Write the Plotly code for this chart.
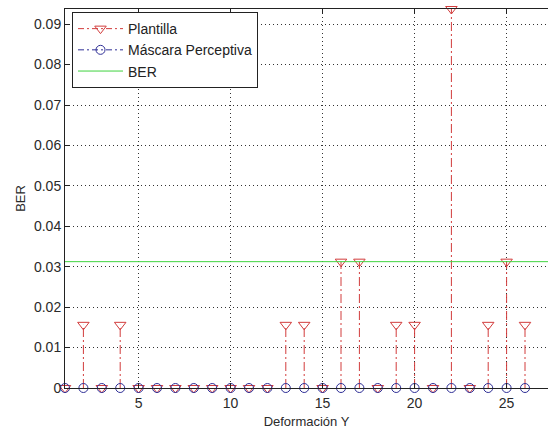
import plotly.graph_objects as go

x_vals = list(range(1, 27))
plantilla = [0, 0.015625, 0, 0.015625, 0, 0, 0, 0, 0, 0, 0, 0, 0.015625, 0.015625, 0,
             0.03125, 0.03125, 0, 0.015625, 0.015625, 0, 0.09375, 0, 0.015625, 0.03125, 0.015625]
mascara = [0, 0, 0, 0, 0, 0, 0, 0, 0, 0, 0, 0, 0, 0, 0,
           0, 0, 0, 0, 0, 0, 0, 0, 0, 0, 0]
ber_x = [1, 28]
ber_y = [0.03125, 0.03125]
x_ticks = [5, 10, 15, 20, 25]
y_ticks = [0, 0.01, 0.02, 0.03, 0.04, 0.05, 0.06, 0.07, 0.08, 0.09]
y_tick_text = ["0", "0.01", "0.02", "0.03", "0.04", "0.05", "0.06", "0.07", "0.08", "0.09"]

RED = "#d23c3c"
BLUE = "#2e2e96"
GREEN = "#3fd33f"
FONT = "Liberation Sans, Arial, sans-serif"
GRID = dict(showgrid=True, gridcolor="#333", griddash="1px,3px", gridwidth=1)


def stems(xs, ys):
    sx, sy = [], []
    for x, y in zip(xs, ys):
        sx += [x, x, None]
        sy += [0, y, None]
    return sx, sy


fig = go.Figure()

sx, sy = stems(x_vals, plantilla)
fig.add_trace(go.Scatter(x=sx, y=sy, mode="lines", line=dict(color=RED, width=1, dash="9px,3px,2px,3px"),
                         showlegend=False, hoverinfo="skip"))
fig.add_trace(go.Scatter(x=x_vals, y=plantilla, mode="markers", cliponaxis=False,
                         marker=dict(symbol="triangle-down-open", size=10, color=RED, line=dict(width=1)),
                         showlegend=False))
sx2, sy2 = stems(x_vals, mascara)
fig.add_trace(go.Scatter(x=sx2, y=sy2, mode="lines", line=dict(color=BLUE, width=1, dash="9px,3px,2px,3px"),
                         showlegend=False, hoverinfo="skip"))
fig.add_trace(go.Scatter(x=x_vals, y=mascara, mode="markers", cliponaxis=False,
                         marker=dict(symbol="circle-open", size=9, color=BLUE, line=dict(width=1)),
                         showlegend=False))
fig.add_trace(go.Scatter(x=ber_x, y=ber_y, mode="lines", line=dict(color=GREEN, width=1),
                         showlegend=False))

fig.add_trace(go.Scatter(x=[None], y=[None], mode="lines+markers", name="Plantilla",
                         line=dict(color=RED, width=1, dash="6px,3px,2px,3px"),
                         marker=dict(symbol="triangle-down-open", size=10, color=RED)))
fig.add_trace(go.Scatter(x=[None], y=[None], mode="lines+markers", name="Máscara Perceptiva",
                         line=dict(color=BLUE, width=1, dash="6px,3px,2px,3px"),
                         marker=dict(symbol="circle-open", size=9, color=BLUE)))
fig.add_trace(go.Scatter(x=[None], y=[None], mode="lines", name="BER",
                         line=dict(color=GREEN, width=1)))

fig.update_layout(
    width=548, height=433,
    margin=dict(l=65, r=0, t=9, b=45, autoexpand=False),
    paper_bgcolor="white", plot_bgcolor="white",
    font=dict(family=FONT, size=14, color="#2a2a2a"),
    showlegend=True,
    legend=dict(x=0.0145, y=0.992, xanchor="left", yanchor="top",
                bgcolor="white", bordercolor="#222", borderwidth=1,
                font=dict(size=14, color="#222"), itemwidth=45,
                tracegroupgap=0),
    xaxis=dict(range=[1, 27.25], tickvals=x_ticks, ticks="inside", ticklen=5,
               tickcolor="#222", showline=True, mirror="ticks", linecolor="#222", linewidth=1,
               zeroline=False, automargin=False, ticklabelstandoff=2,
               title=dict(text="Deformación Y", standoff=7, font=dict(size=13)), **GRID),
    yaxis=dict(range=[0, 0.09375], tickvals=y_ticks, ticktext=y_tick_text,
               ticks="inside", ticklen=5, tickcolor="#222", showline=True,
               linecolor="#222", linewidth=1, zeroline=False, automargin=False,
               title=dict(text="BER", standoff=5, font=dict(size=13)), **GRID),
)

fig.write_html("out.html")
